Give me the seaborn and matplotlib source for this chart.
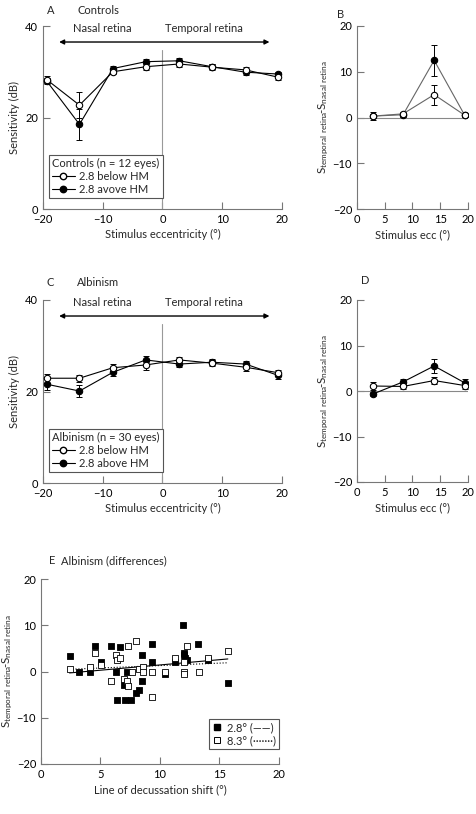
import numpy as np
import pandas as pd
import matplotlib
matplotlib.use("Agg")
import matplotlib.pyplot as plt
from matplotlib.lines import Line2D
import seaborn as sns

# ---------------- data ----------------
ecc = [-19.4, -13.9, -8.3, -2.8, 2.8, 8.3, 13.9, 19.4]
ctrl_below = [28.3, 22.7, 30.0, 31.1, 31.7, 31.0, 30.4, 28.8]
ctrl_below_err = [0.7, 2.9, 0.6, 0.8, 0.6, 0.6, 0.7, 0.6]
ctrl_above = [28.0, 18.5, 30.7, 32.2, 32.4, 31.1, 29.9, 29.5]
ctrl_above_err = [0.6, 3.4, 0.5, 0.5, 0.5, 0.5, 0.6, 0.5]

ecc_diff = [2.8, 8.3, 13.9, 19.4]
ctrl_diff_below = [0.3, 0.8, 5.0, 0.5]
ctrl_diff_below_err = [0.8, 0.4, 2.2, 0.3]
ctrl_diff_above = [0.3, 0.6, 12.5, 0.5]
ctrl_diff_above_err = [0.5, 0.4, 3.4, 0.3]

alb_below = [22.9, 22.9, 25.2, 25.8, 26.9, 26.2, 25.3, 24.1]
alb_below_err = [1.0, 0.8, 0.8, 1.0, 0.7, 0.6, 0.8, 0.7]
alb_above = [21.6, 20.1, 24.2, 26.9, 26.0, 26.4, 26.0, 23.5]
alb_above_err = [1.2, 1.3, 0.8, 0.9, 0.6, 0.6, 0.6, 0.8]

alb_diff_below = [1.1, 1.0, 2.3, 1.2]
alb_diff_below_err = [0.9, 0.5, 0.7, 0.7]
alb_diff_above = [-0.7, 2.0, 5.5, 1.8]
alb_diff_above_err = [0.5, 0.6, 1.5, 0.9]

shift_28 = [2.4, 3.2, 4.1, 4.5, 5.05, 5.9, 6.3, 6.4, 6.6, 7.0, 7.1, 7.2, 7.6, 8.0,
            8.2, 8.5, 8.5, 9.3, 9.3, 10.4, 11.3, 11.9, 12.0, 12.0, 12.1, 12.3,
            13.2, 14.0, 15.7]
diff_28 = [3.4, 0.0, 0.0, 5.5, 2.0, 5.5, 0.0, -6.1, 5.4, -2.9, -6.1, 0.0, -6.1, -4.6,
           -4.0, 3.5, -2.1, 6.0, 2.0, -0.5, 2.0, 10.0, 4.1, 3.6, 3.0, 2.4,
           6.0, 2.4, -2.4]
shift_83 = [2.4, 4.1, 4.5, 5.05, 5.9, 6.3, 6.4, 6.6, 7.0, 7.2, 7.3, 7.3, 7.65, 8.0,
            8.2, 8.55, 8.55, 9.3, 9.3, 10.4, 11.3, 12.0, 12.0, 12.0, 12.3, 13.3,
            14.0, 15.7]
diff_83 = [0.5, 1.0, 4.1, 1.5, -2.1, 3.5, 2.5, 3.0, -1.6, -2.1, -3.1, 5.5, 0.0, 6.5,
           0.5, 1.0, -0.2, -0.2, -5.6, 0.0, 2.9, 2.0, 0.0, -0.6, 5.5, 0.0,
           3.0, 4.5]

# ---------------- style ----------------
sns.set_style("ticks")
plt.rcParams['font.family'] = ['Lato', 'DejaVu Sans']
plt.rcParams['mathtext.fontset'] = 'custom'
plt.rcParams['mathtext.rm'] = 'Lato'
plt.rcParams['font.size'] = 8
plt.rcParams['axes.edgecolor'] = '#777777'
plt.rcParams['xtick.color'] = '#777777'
plt.rcParams['ytick.color'] = '#777777'
plt.rcParams['xtick.labelcolor'] = 'black'
plt.rcParams['ytick.labelcolor'] = 'black'
plt.rcParams['xtick.direction'] = 'in'
plt.rcParams['ytick.direction'] = 'in'
plt.rcParams['xtick.major.size'] = 5
plt.rcParams['ytick.major.size'] = 5
plt.rcParams['axes.linewidth'] = 0.8

fig = plt.figure(figsize=(4.77, 8.14), dpi=100)
W, H = 477, 814


def ax_px(x0, y0, x1, y1):
    return fig.add_axes([x0 / W, 1 - y1 / H, (x1 - x0) / W, (y1 - y0) / H])


axA = ax_px(43, 26, 282, 209)
axB = ax_px(357, 26, 468, 209)
axC = ax_px(43, 300, 282, 483)
axD = ax_px(357, 300, 468, 482)
axE = ax_px(41, 579, 279, 764)

ylab_diff = r'$\mathregular{S_{temporal\ retina}\!\text{-}S_{nasal\ retina}}$'
YL_FS = 8.4
MS = 4.6


def series(ax, x, y, err, filled, lcolor='black'):
    df = pd.DataFrame({'x': x, 'y': y})
    sns.lineplot(data=df, x='x', y='y', ax=ax, color=lcolor, lw=0.8,
                 marker='o', markersize=MS,
                 markerfacecolor='black' if filled else 'white',
                 markeredgecolor='black', markeredgewidth=0.8,
                 zorder=3 if filled else 4)
    ax.errorbar(x, y, yerr=err, fmt='none', ecolor='black', elinewidth=0.7,
                capsize=2.2, capthick=0.7, zorder=2)


def sens_panel(ax, below, below_err, above, above_err, leg_title, lab_above):
    ax.axvline(0, ymin=0, ymax=(34.8) / 40, color='#999999', lw=0.8, zorder=1)
    series(ax, ecc, below, below_err, False)
    series(ax, ecc, above, above_err, True)
    ax.annotate('', xy=(-17.3, 36.5), xytext=(17.9, 36.5),
                arrowprops=dict(arrowstyle='<|-|>', color='black', lw=1,
                                mutation_scale=7, shrinkA=0, shrinkB=0))
    ax.text(-10, 39.5, 'Nasal retina', ha='center', va='center', fontsize=8)
    ax.text(7.0, 39.5, 'Temporal retina', ha='center', va='center', fontsize=8)
    ax.set_xlim(-20, 20)
    ax.set_ylim(0, 40)
    ax.set_xticks([-20, -10, 0, 10, 20])
    ax.set_yticks([0, 20, 40])
    ax.set_xlabel('Stimulus eccentricity (°)', labelpad=3)
    ax.set_ylabel('Sensitivity (dB)', labelpad=4)
    handles = [
        Line2D([], [], color='black', lw=0.8, marker='o', markersize=MS,
               markerfacecolor='white', markeredgecolor='black'),
        Line2D([], [], color='black', lw=0.8, marker='o', markersize=MS,
               markerfacecolor='black', markeredgecolor='black'),
    ]
    leg = ax.legend(handles, ['2.8 below HM', lab_above], title=leg_title,
                    loc='lower left', bbox_to_anchor=(0.025, 0.06),
                    fancybox=False, edgecolor='#555555', framealpha=1,
                    fontsize=8, title_fontsize=8, handlelength=2.0,
                    handletextpad=0.4, borderpad=0.3, labelspacing=0.15,
                    borderaxespad=0)
    leg._legend_box.align = 'left'
    leg.get_frame().set_linewidth(0.8)


def diff_panel(ax, below, below_err, above, above_err, lcolor):
    ax.axhline(0, color='#888888', lw=0.8, zorder=1)
    series(ax, ecc_diff, above, above_err, True, lcolor)
    series(ax, ecc_diff, below, below_err, False, lcolor)
    ax.set_xlim(0, 20)
    ax.set_ylim(-20, 20)
    ax.set_xticks([0, 5, 10, 15, 20])
    ax.set_yticks([-20, -10, 0, 10, 20])
    ax.set_xlabel('Stimulus ecc (°)', labelpad=3)
    ax.set_ylabel(ylab_diff, fontsize=YL_FS, labelpad=1)


sens_panel(axA, ctrl_below, ctrl_below_err, ctrl_above, ctrl_above_err,
           'Controls (n = 12 eyes)', '2.8 avove HM')
sens_panel(axC, alb_below, alb_below_err, alb_above, alb_above_err,
           'Albinism (n = 30 eyes)', '2.8 above HM')
diff_panel(axB, ctrl_diff_below, ctrl_diff_below_err, ctrl_diff_above,
           ctrl_diff_above_err, '#666666')
diff_panel(axD, alb_diff_below, alb_diff_below_err, alb_diff_above,
           alb_diff_above_err, 'black')

# Panel E
dfE28 = pd.DataFrame({'shift': shift_28, 'diff': diff_28})
dfE83 = pd.DataFrame({'shift': shift_83, 'diff': diff_83})
sns.regplot(data=dfE28, x='shift', y='diff', ax=axE, scatter=False, ci=None,
            truncate=True, line_kws=dict(color='black', lw=0.8, ls='-'))
sns.regplot(data=dfE83, x='shift', y='diff', ax=axE, scatter=False, ci=None,
            truncate=True, line_kws=dict(color='black', lw=0.8, ls=':'))
sns.scatterplot(data=dfE28, x='shift', y='diff', ax=axE, marker='s', s=24,
                color='black', edgecolor='black', linewidth=0.6, zorder=3)
sns.scatterplot(data=dfE83, x='shift', y='diff', ax=axE, marker='s', s=24,
                facecolor='white', edgecolor='black', linewidth=0.6, zorder=4)
axE.set_xlim(0, 20)
axE.set_ylim(-20, 20)
axE.set_xticks([0, 5, 10, 15, 20])
axE.set_yticks([-20, -10, 0, 10, 20])
axE.set_xlabel('Line of decussation shift (°)', labelpad=3)
axE.set_ylabel(ylab_diff, fontsize=YL_FS, labelpad=1)
hE = [Line2D([], [], ls='none', marker='s', markersize=4.5, markerfacecolor='black',
             markeredgecolor='black'),
      Line2D([], [], ls='none', marker='s', markersize=4.5, markerfacecolor='white',
             markeredgecolor='black', markeredgewidth=0.7)]
legE = axE.legend(hE, ['2.8° (——)', '8.3° (·······)'], loc='lower right',
                  bbox_to_anchor=(1.0, 0.08), fancybox=False,
                  edgecolor='#555555', framealpha=1, fontsize=8,
                  handlelength=0.8, handletextpad=0.5, borderpad=0.3,
                  labelspacing=0.15, borderaxespad=0)
legE.get_frame().set_linewidth(0.8)

for ax in (axA, axB, axC, axD, axE):
    sns.despine(ax=ax)

# panel titles
fig.text(47 / W, 1 - 10 / H, 'A', va='center', ha='left', fontsize=8)
fig.text(77 / W, 1 - 10 / H, 'Controls', va='center', ha='left', fontsize=8)
fig.text(337 / W, 1 - 14 / H, 'B', va='center', ha='left', fontsize=8)
fig.text(47 / W, 1 - 282 / H, 'C', va='center', ha='left', fontsize=8)
fig.text(77 / W, 1 - 282 / H, 'Albinism', va='center', ha='left', fontsize=8)
fig.text(361 / W, 1 - 281 / H, 'D', va='center', ha='left', fontsize=8)
fig.text(49 / W, 1 - 561 / H, 'E', va='center', ha='left', fontsize=8)
fig.text(61 / W, 1 - 561 / H, 'Albinism (differences)', va='center', ha='left',
         fontsize=8)

fig.savefig('out.png', dpi=100)
